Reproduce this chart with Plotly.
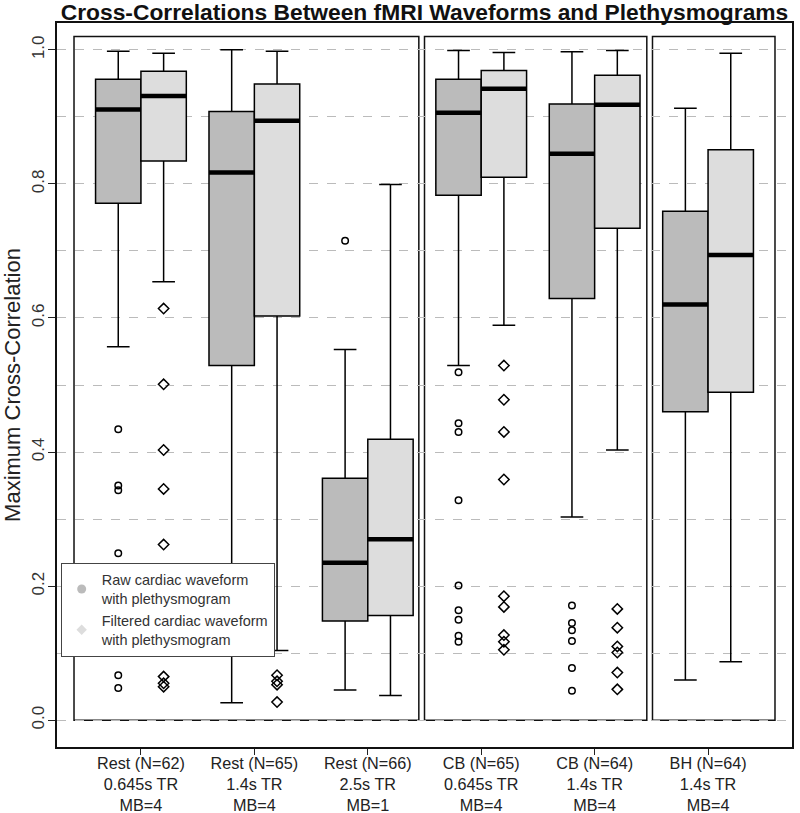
import plotly.graph_objects as go

# ---------------- data ----------------
group_labels = [
    "Rest (N=62)<br>0.645s TR<br>MB=4",
    "Rest (N=65)<br>1.4s TR<br>MB=4",
    "Rest (N=66)<br>2.5s TR<br>MB=1",
    "CB (N=65)<br>0.645s TR<br>MB=4",
    "CB (N=64)<br>1.4s TR<br>MB=4",
    "BH (N=64)<br>1.4s TR<br>MB=4",
]
group_pos = [1, 2, 3, 4, 5, 6]

raw_upper = [0.998, 1.000, 0.553, 0.999, 0.997, 0.913]
raw_q3 = [0.956, 0.908, 0.361, 0.956, 0.919, 0.759]
raw_median = [0.911, 0.817, 0.235, 0.906, 0.845, 0.620]
raw_q1 = [0.771, 0.529, 0.148, 0.783, 0.629, 0.460]
raw_lower = [0.557, 0.026, 0.045, 0.529, 0.303, 0.060]

filt_upper = [0.995, 0.998, 0.799, 0.996, 0.999, 0.995]
filt_q3 = [0.968, 0.949, 0.419, 0.969, 0.962, 0.851]
filt_median = [0.931, 0.894, 0.270, 0.942, 0.918, 0.694]
filt_q1 = [0.834, 0.603, 0.156, 0.810, 0.734, 0.489]
filt_lower = [0.654, 0.104, 0.037, 0.589, 0.403, 0.087]

raw_outliers = [
    [0.434, 0.350, 0.343, 0.249, 0.067, 0.048],
    [],
    [0.715],
    [0.519, 0.443, 0.430, 0.328, 0.201, 0.164, 0.150, 0.126, 0.117],
    [0.171, 0.145, 0.134, 0.118, 0.078, 0.044],
    [],
]
filt_outliers = [
    [0.614, 0.501, 0.403, 0.345, 0.262, 0.065, 0.055, 0.050],
    [0.067, 0.058, 0.053, 0.027],
    [],
    [0.529, 0.478, 0.430, 0.359, 0.185, 0.169, 0.127, 0.117, 0.105],
    [0.166, 0.138, 0.110, 0.101, 0.071, 0.046],
    [],
]

# panels (x extents in category units)
panels = [(0.41, 3.45), (3.50, 5.46), (5.51, 6.59)]

# ---------------- styling ----------------
FONT = "Liberation Sans, Arial, Helvetica, sans-serif"
DARK = "#BBBBBB"
LIGHT = "#DDDDDD"
OFF = 0.2
BW = 0.4

raw_x = [p - OFF for p in group_pos]
filt_x = [p + OFF for p in group_pos]

fig = go.Figure()

for xs, q1, med, q3, lo, hi, fill in [
    (raw_x, raw_q1, raw_median, raw_q3, raw_lower, raw_upper, DARK),
    (filt_x, filt_q1, filt_median, filt_q3, filt_lower, filt_upper, LIGHT),
]:
    fig.add_trace(go.Box(
        x=xs, q1=q1, median=med, q3=q3, lowerfence=lo, upperfence=hi,
        width=BW, whiskerwidth=0.5, fillcolor=fill,
        line=dict(color="black", width=1.5),
        boxpoints=False, showlegend=False, hoverinfo="skip",
    ))
    mx, my = [], []
    for x, m in zip(xs, med):
        mx += [x - BW / 2, x + BW / 2, None]
        my += [m, m, None]
    fig.add_trace(go.Scatter(x=mx, y=my, mode="lines",
                             line=dict(color="black", width=4.5),
                             showlegend=False, hoverinfo="skip"))

for xs, outs, sym, size in [(raw_x, raw_outliers, "circle-open", 6.5),
                            (filt_x, filt_outliers, "diamond-open", 8)]:
    ox, oy = [], []
    for x, vals in zip(xs, outs):
        ox += [x] * len(vals)
        oy += vals
    fig.add_trace(go.Scatter(x=ox, y=oy, mode="markers",
                             marker=dict(symbol=sym, size=size, color="black",
                                         line=dict(width=1.5, color="black")),
                             showlegend=False, hoverinfo="skip"))

# legend entries
fig.add_trace(go.Scatter(x=[None], y=[None], mode="markers",
                         marker=dict(symbol="circle", size=9, color=DARK),
                         name="Raw cardiac waveform<br>with plethysmogram"))
fig.add_trace(go.Scatter(x=[None], y=[None], mode="markers",
                         marker=dict(symbol="diamond", size=8, color=LIGHT),
                         name="Filtered cardiac waveform<br>with plethysmogram"))

shapes = []
for x0, x1 in panels:
    shapes.append(dict(type="rect", xref="x", yref="y", x0=x0, x1=x1, y0=0, y1=1.02,
                       line=dict(color="#111", width=1.5), layer="below"))

fig.update_layout(
    width=800, height=813,
    margin=dict(l=57, r=8, t=23, b=66, autoexpand=False),
    paper_bgcolor="white", plot_bgcolor="white",
    font=dict(family=FONT, color="#222"),
    title=dict(text="<b>Cross-Correlations Between fMRI Waveforms and Plethysmograms</b>",
               x=0.5, xref="paper", xanchor="center",
               y=1 - 12.5 / 813, yref="container", yanchor="middle",
               automargin=False,
               font=dict(family=FONT, size=22.8, color="#111")),
    shapes=shapes,
    showlegend=True,
    legend=dict(x=0.005, y=0.2546, xanchor="left", yanchor="top",
                bgcolor="white", bordercolor="#444", borderwidth=1,
                font=dict(family=FONT, size=14.5, color="#333"),
                itemwidth=30, tracegroupgap=0),
    xaxis=dict(range=[0.26, 6.74], tickmode="array", tickvals=group_pos,
               ticktext=group_labels, ticks="outside", ticklen=6,
               tickcolor="#222", tickwidth=1.2, automargin=False,
               ticklabelstandoff=-5,
               tickfont=dict(family=FONT, size=16.2, color="#222"),
               showline=True, mirror=True, linecolor="#111", linewidth=1.5,
               showgrid=False, zeroline=False),
    yaxis=dict(range=[-0.04, 1.04], tickmode="array",
               tickvals=[0, 0.2, 0.4, 0.6, 0.8, 1.0],
               ticktext=["0.0", "0.2", "0.4", "0.6", "0.8", "1.0"],
               tickangle=-90, ticks="outside", ticklen=7,
               tickcolor="#222", tickwidth=1.2, automargin=False,
               ticklabelstandoff=-3,
               tickfont=dict(family=FONT, size=17, color="#333"),
               showline=True, mirror=True, linecolor="#111", linewidth=1.5,
               showgrid=True, gridcolor="#BBBBBB", griddash="dash", gridwidth=1,
               minor=dict(dtick=0.1, tick0=0, showgrid=True, gridcolor="#BBBBBB",
                          griddash="dash", gridwidth=1),
               zeroline=False,
               title=dict(text="Maximum Cross-Correlation", standoff=3,
                          font=dict(family=FONT, size=22, color="#222"))),
)

fig.write_html("out.html",
               config={"displayModeBar": False},
               post_script="document.body.style.margin='0';"
                           "document.body.style.overflow='hidden';")
